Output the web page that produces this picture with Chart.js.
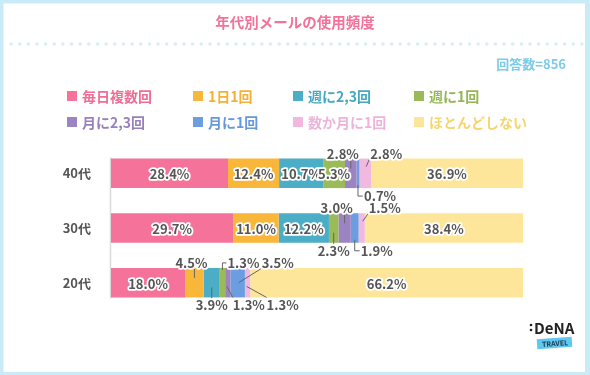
<!DOCTYPE html>
<html>
<head>
<meta charset="utf-8">
<script src="https://cdn.jsdelivr.net/npm/chart.js@4.4.0/dist/chart.umd.min.js"></script>
<style>
  html, body { margin: 0; padding: 0; background: #fff; }
  #wrap { width: 590px; height: 375px; }
</style>
</head>
<body>
<div id="wrap"><canvas id="mailChart" width="590" height="375"></canvas></div>
<script>
// 年代別メールの使用頻度
const ageGroups = ['40代', '30代', '20代'];
const seriesNames = ['毎日複数回', '1日1回', '週に2,3回', '週に1回', '月に2,3回', '月に1回', '数か月に1回', 'ほとんどしない'];
const everyDayMany = [28.4, 29.7, 18.0];
const onceADay = [12.4, 11.0, 4.5];
const weekly23 = [10.7, 12.2, 3.9];
const weekly1 = [5.3, 2.3, 1.3];
const monthly23 = [2.8, 3.0, 1.3];
const monthly1 = [0.7, 1.9, 3.5];
const fewMonths = [2.8, 1.5, 1.3];
const hardlyEver = [36.9, 38.4, 66.2];
const respondents = 856;

const seriesValues = [everyDayMany, onceADay, weekly23, weekly1, monthly23, monthly1, fewMonths, hardlyEver];
const barColors = ['#f5739a', '#f8b63a', '#4badc6', '#9bbb59', '#9c83c2', '#6c9de0', '#f1b9df', '#fde69a'];
const legendColors = ['#f06d94', '#f6b035', '#45a8c2', '#95b654', '#9880bd', '#6898dc', '#eeb3db', '#f7d56e'];
const FONT = "'Noto Sans CJK JP', 'Noto Sans', sans-serif";

// small segments get their label outside the bar with a leader line
// key = row-series
const callouts = {
    '0-4': { side: 'up', leader: 'v', align: 'center', dx: -8 },
    '0-5': { side: 'down', leader: 'L', align: 'left', dx: 6 },
    '0-6': { side: 'up', leader: 'diag', align: 'left', dx: 5 },
    '1-3': { side: 'down', leader: 'v', align: 'center', dx: 0 },
    '1-4': { side: 'up', leader: 'v', align: 'center', dx: -8 },
    '1-5': { side: 'down', leader: 'L', align: 'left', dx: 6 },
    '1-6': { side: 'up', leader: 'diag', align: 'left', dx: 7 },
    '2-1': { side: 'up', leader: 'v', align: 'center', dx: -3 },
    '2-2': { side: 'down', leader: 'v', align: 'center', dx: 0 },
    '2-3': { side: 'up', leader: 'hook', align: 'left', dx: 5 },
    '2-4': { side: 'down', leader: 'diag', align: 'left', dx: 5 },
    '2-5': { side: 'up', leader: 'diag', align: 'left', dx: 24, deep: true },
    '2-6': { side: 'down', leader: 'diag', align: 'left', dx: 19 }
};

function outlined(ctx, text, x, y, color) {
    ctx.lineJoin = 'round';
    ctx.lineWidth = 3.5;
    ctx.strokeStyle = '#fff';
    ctx.strokeText(text, x, y);
    ctx.fillStyle = color;
    ctx.fillText(text, x, y);
}

const decorPlugin = {
    id: 'decor',
    beforeDraw(chart) {
        const ctx = chart.ctx;
        ctx.save();
        // frame
        ctx.fillStyle = '#c9ebf8';
        ctx.fillRect(0, 0, 590, 375);
        ctx.fillStyle = '#fff';
        ctx.fillRect(3.5, 3.5, 581.5, 368.5);

        // title
        ctx.font = 'bold 14.5px ' + FONT;
        ctx.textAlign = 'center';
        ctx.textBaseline = 'middle';
        ctx.fillStyle = '#f2729a';
        ctx.fillText('年代別メールの使用頻度', 295, 22);

        // dotted rule
        ctx.fillStyle = '#d5eef9';
        for (let x = 11; x <= 582; x += 8.65) {
            ctx.beginPath();
            ctx.arc(x, 44, 1.8, 0, Math.PI * 2);
            ctx.fill();
        }

        // respondents
        ctx.font = 'bold 13px ' + FONT;
        ctx.textAlign = 'right';
        ctx.fillStyle = '#7ccbe9';
        ctx.fillText('回答数=' + respondents, 566, 64);

        // legend, 4 columns x 2 rows
        const colX = [67, 193, 293, 414];
        const rowY = [96, 122];
        ctx.font = 'bold 14px ' + FONT;
        ctx.textAlign = 'left';
        seriesNames.forEach((name, i) => {
            const x = colX[i % 4], y = rowY[Math.floor(i / 4)];
            ctx.fillStyle = barColors[i];
            ctx.fillRect(x, y - 5, 10, 10);
            ctx.fillStyle = legendColors[i];
            ctx.fillText(name, x + 15, y + 1);
        });

        // logo
        ctx.fillStyle = '#222';
        ctx.beginPath(); ctx.arc(531, 325, 1.3, 0, Math.PI * 2); ctx.fill();
        ctx.beginPath(); ctx.arc(531, 330, 1.3, 0, Math.PI * 2); ctx.fill();
        ctx.font = 'bold 15px ' + FONT;
        ctx.fillText('DeNA', 534, 328);
        ctx.translate(554, 343);
        ctx.rotate(-0.07);
        ctx.fillStyle = '#5ec8ee';
        ctx.fillRect(-17, -5, 35, 10);
        ctx.fillStyle = '#1d3550';
        ctx.font = 'bold 7px ' + FONT;
        ctx.textAlign = 'center';
        ctx.fillText('TRAVEL', 1, 0.5);
        ctx.restore();
    },
    beforeDatasetsDraw(chart) {
        const ctx = chart.ctx;
        const first = chart.getDatasetMeta(0).data[0];
        const last = chart.getDatasetMeta(0).data[ageGroups.length - 1];
        ctx.save();
        ctx.strokeStyle = '#d9d9d9';
        ctx.lineWidth = 1.5;
        ctx.beginPath();
        ctx.moveTo(chart.chartArea.left - 0.5, first.y - first.height / 2 - 1);
        ctx.lineTo(chart.chartArea.left - 0.5, last.y + last.height / 2 + 1);
        ctx.stroke();
        ctx.restore();
    },
    afterDatasetsDraw(chart) {
        const ctx = chart.ctx;
        ctx.save();
        ctx.font = 'bold 13px ' + FONT;
        ctx.textBaseline = 'middle';
        const texts = [];
        chart.data.datasets.forEach((ds, si) => {
            chart.getDatasetMeta(si).data.forEach((bar, ri) => {
                const p = bar.getProps(['x', 'y', 'base', 'height'], true);
                const text = ds.data[ri].toFixed(1) + '%';
                const cx = (p.x + p.base) / 2;
                const top = p.y - p.height / 2, bottom = p.y + p.height / 2;
                const c = callouts[ri + '-' + si];
                if (!c) {
                    texts.push([text, cx, p.y + 1, 'center']);
                    return;
                }
                const w = ctx.measureText(text).width;
                const ly = c.side === 'up' ? top - 5 : bottom + 8;
                const lx = c.align === 'center' ? cx + c.dx - w / 2 : cx + c.dx;
                ctx.strokeStyle = '#666';
                ctx.lineWidth = 1;
                ctx.beginPath();
                if (c.leader === 'v') {
                    if (c.side === 'up') { ctx.moveTo(cx, top + 1); ctx.lineTo(cx, top + 10); }
                    else { ctx.moveTo(cx, bottom - 10); ctx.lineTo(cx, bottom + 1); }
                } else if (c.leader === 'L') {
                    ctx.moveTo(cx, bottom - 3); ctx.lineTo(cx, ly); ctx.lineTo(lx - 1, ly);
                } else if (c.leader === 'hook') {
                    ctx.moveTo(cx, top + 2); ctx.lineTo(cx, ly); ctx.lineTo(lx - 1, ly);
                } else if (c.side === 'up') {
                    ctx.moveTo(cx + 1, c.deep ? p.y : top + 8); ctx.lineTo(lx - 1, top + 1);
                } else {
                    ctx.moveTo(cx - 1, bottom - 11); ctx.lineTo(lx, bottom);
                }
                ctx.stroke();
                texts.push([text, lx, ly, 'left']);
            });
        });
        texts.forEach(([t, x, y, align]) => {
            ctx.textAlign = align;
            outlined(ctx, t, x, y, '#555');
        });
        ctx.restore();
    }
};

new Chart(document.getElementById('mailChart').getContext('2d'), {
    type: 'bar',
    data: {
        labels: ageGroups,
        datasets: seriesNames.map((name, i) => ({
            label: name,
            data: seriesValues[i],
            backgroundColor: barColors[i],
            borderWidth: 0,
            barPercentage: 0.54,
            categoryPercentage: 1
        }))
    },
    options: {
        indexAxis: 'y',
        responsive: false,
        animation: false,
        layout: { padding: { top: 146, right: 67, bottom: 65, left: 0 } },
        plugins: {
            legend: { display: false },
            title: { display: false },
            tooltip: { enabled: false }
        },
        scales: {
            x: { stacked: true, min: 0, max: 100, display: false },
            y: {
                stacked: true,
                grid: { display: false, drawTicks: false },
                border: { display: false },
                ticks: {
                    color: '#555',
                    padding: 20,
                    font: { size: 13, weight: 'bold', family: FONT }
                },
                afterFit(scale) { scale.width = 111; }
            }
        }
    },
    plugins: [decorPlugin]
});
</script>
</body>
</html>
